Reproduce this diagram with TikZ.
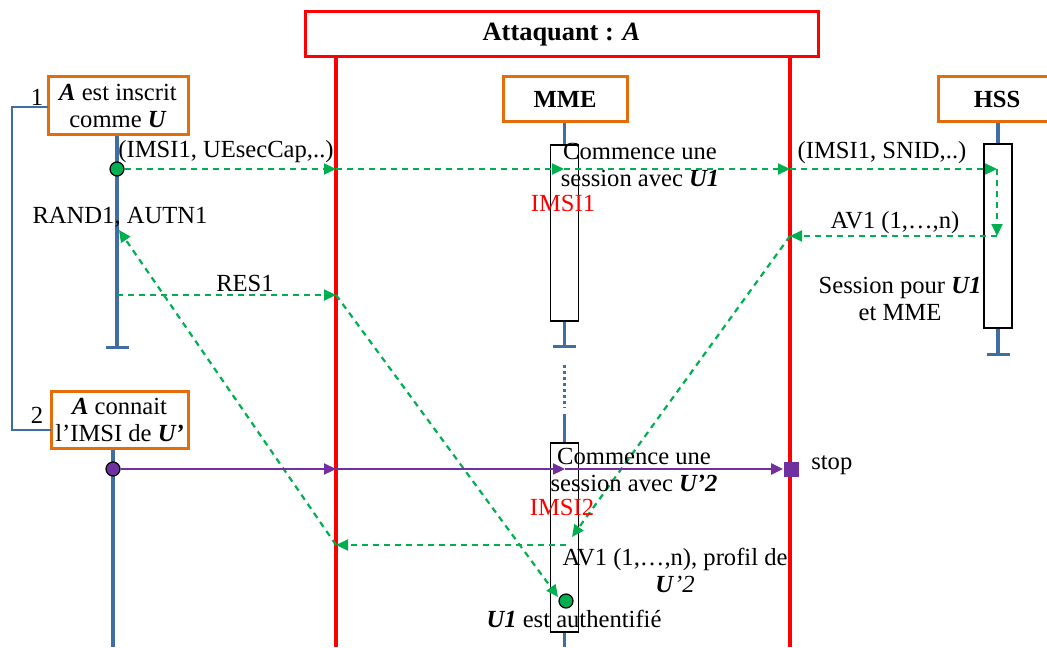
\documentclass[tikz,border=0pt]{standalone}
\usepackage{fontspec}
\setmainfont{Liberation Serif}
\usetikzlibrary{arrows.meta,positioning,calc}
\definecolor{ornge}{RGB}{228,108,10}
\definecolor{lblue}{RGB}{65,110,160}
\definecolor{msggreen}{RGB}{0,176,80}
\definecolor{prpl}{RGB}{112,48,160}

\begin{document}
\begin{tikzpicture}[x=0.5pt,y=-0.5pt,
font=\fontsize{12.3}{13.5}\selectfont,
ent/.style={draw=ornge,line width=1.5pt,fill=white,align=center,inner sep=0pt},
act/.style={draw,line width=0.8pt,fill=white,minimum width=14pt,inner sep=0pt},
life/.style={draw=lblue,line width=1.6pt},
lifeend/.style={life,-{Bar[width=11.5pt]}},
wall/.style={red,line width=1.6pt},
bracket/.style={draw=lblue,line width=0.8pt},
gmsg/.style={msggreen,line width=1.1pt,dash pattern=on 3pt off 2.5pt,-{Triangle[length=6pt,width=5.5pt]}},
pmsg/.style={prpl,line width=1.1pt,-{Triangle[length=6pt,width=5.5pt]}},
msgdot/.style={circle,draw,line width=0.6pt,inner sep=0pt,minimum size=7pt},
lbl/.style={inner sep=1pt,align=center}
]
\useasboundingbox (0,0) rectangle (1047,647);

% entities
\node[ent,draw=red,minimum width=256.5pt,minimum height=22.5pt,font=\fontsize{13.2}{14}\selectfont] (att) at (561.5,34.5) {\textbf{Attaquant : \textit{A}}};
\node[ent,minimum width=70pt,minimum height=28.5pt] (ua) at (118,105.5) {\textbf{\textit{A}} est inscrit\\comme \textbf{\textit{U}}};
\node[ent,minimum width=68.5pt,minimum height=28.5pt] (ub) at (119.5,419.5) {\textbf{\textit{A}} connait\\l’IMSI de \textbf{\textit{U’}}};
\node[ent,minimum width=62pt,minimum height=22pt] (mme) at (565,99) {\textbf{MME}};
\node[ent,minimum width=59pt,minimum height=22pt] (hss) at (997,99) {\textbf{HSS}};
\node[lbl] (n1) at (37,97) {1};
\node[lbl] (n2) at (37,415) {2};

% activations
\node[act,minimum height=88pt] (mact1) at (564.5,233) {};
\node[act,minimum height=94.5pt] (mact2) at (564.5,537.5) {};
\node[act,minimum height=92pt] (hact) at (998,236) {};

% attacker walls
\coordinate (wl) at (336,647);
\coordinate (wr) at (790,647);
\draw[wall] (att.south -| wl) -- (wl);
\draw[wall] (att.south -| wr) -- (wr);

% lifelines
\coordinate (uend) at (117,349);
\draw[lifeend] (ua.south -| uend) -- (uend);
\coordinate (u2end) at (113,647);
\draw[life] (ub.south -| u2end) -- (u2end);
\coordinate (mend) at (564.5,348);
\coordinate (mdots) at (564.5,365);
\coordinate (mdote) at (564.5,408);
\coordinate (mres) at (564.5,414);
\coordinate (mbot) at (564.5,647);
\draw[life] (mme.south -| mact1.north) -- (mact1.north);
\draw[lifeend] (mact1.south) -- (mend);
\draw[life,dash pattern=on 1.5pt off 1.5pt] (mdots) -- (mdote);
\draw[life] (mres) -- (mact2.north);
\draw[life] (mact2.south) -- (mbot);
\coordinate (hend) at (998,356);
\draw[life] (hss.south -| hact.north) -- (hact.north);
\draw[lifeend] (hact.south) -- (hend);

% steps 1 and 2
\coordinate (br1) at (48,107);
\coordinate (brx) at (12,300);
\coordinate (br2) at (51,430);
\draw[bracket] (br1) -| (brx) |- (br2);

% messages
\node[msgdot,fill=msggreen] (g0) at (117,169) {};
\node[msgdot,fill=prpl] (p0) at (113,469) {};
\coordinate (w1a) at (336,169);
\coordinate (m1a) at (564,169);
\coordinate (w2a) at (790,169);
\coordinate (h1a) at (997,169);
\coordinate (h1b) at (997,236);
\coordinate (w2b) at (790,236);
\coordinate (m2a) at (572,537);
\coordinate (m2b) at (566,545);
\coordinate (w1c) at (336,545);
\coordinate (u1b) at (119,230);
\coordinate (u1c) at (117,295);
\coordinate (w1b) at (336,295);
\coordinate (m2c) at (558,597);
\draw[gmsg] (g0) -- (w1a);
\draw[gmsg] (w1a) -- (m1a);
\draw[gmsg] (m1a) -- (w2a);
\draw[gmsg] (w2a) -- (h1a);
\draw[gmsg] (h1a) -- (h1b);
\draw[gmsg] (h1b) -- (w2b);
\draw[gmsg] (w2b) -- (m2a);
\draw[gmsg] (m2b) -- (w1c);
\draw[gmsg] (w1c) -- (u1b);
\draw[gmsg] (u1c) -- (w1b);
\draw[gmsg] (w1b) -- (m2c);
\node[msgdot,fill=msggreen] (g1) at (566,601) {};

\coordinate (w1d) at (336,469);
\coordinate (m2d) at (565,469);
\node[fill=prpl,inner sep=0pt,minimum size=7.5pt] (stp) at (791,469) {};
\draw[pmsg] (p0) -- (w1d);
\draw[pmsg] (w1d) -- (m2d);
\draw[pmsg] (m2d) -- (stp);
\node[lbl,right=5pt of stp,yshift=2pt] (stoplbl) {stop};

% labels
\node[lbl] (l1) at (226,152) {(IMSI1, UEsecCap,..)};
\node[lbl] (l2) at (640,165) {Commence une\\session avec \textbf{\textit{U1}}};
\node[lbl,text=red] (l3) at (563,203) {IMSI1};
\node[lbl] (l4) at (882,153) {(IMSI1, SNID,..)};
\node[lbl] (l5) at (895,223) {AV1 (1,…,n)};
\node[lbl] (l6) at (900,299) {Session pour \textbf{\textit{U1}}\\et MME};
\node[lbl] (l7) at (120,217) {RAND1, AUTN1};
\node[lbl] (l8) at (245,283) {RES1};
\node[lbl] (l9) at (634,470) {Commence une\\session avec \textbf{\textit{U’2}}};
\node[lbl,text=red] (l10) at (562,507) {IMSI2};
\node[lbl] (l11) at (675,570) {AV1 (1,…,n), profil de\\\textbf{\textit{U}}\textit{’2}};
\node[lbl] (l12) at (574,619) {\textbf{\textit{U1}} est authentifié};
\end{tikzpicture}
\end{document}
